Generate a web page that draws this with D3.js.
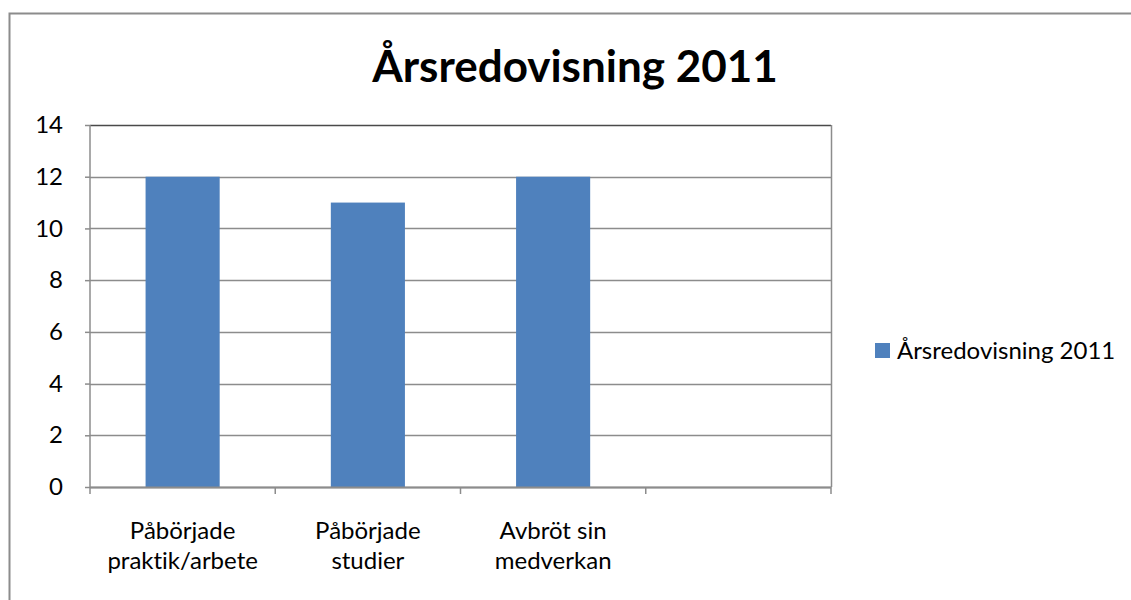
<!DOCTYPE html>
<html>
<head>
<meta charset="utf-8">
<script src="https://cdn.jsdelivr.net/npm/d3@7"></script>
<style>
  body { margin: 0; background: #fff; }
  text { font-family: Lato, "Open Sans", sans-serif; fill: #000; font-variant-ligatures: none; }
</style>
</head>
<body>
<div class="chart"></div>
<script>
// data
var categories = [["Påbörjade", "praktik/arbete"], ["Påbörjade", "studier"], ["Avbröt sin", "medverkan"], [""]];
var values = [12, 11, 12, null];
var seriesName = "Årsredovisning 2011";
var yTicks = [0, 2, 4, 6, 8, 10, 12, 14];

var svgWidth = 1131;
var svgHeight = 600;

var margin = { top: 125, left: 90, right: 300, bottom: 113 };
var width = svgWidth - margin.left - margin.right;   // 741
var height = svgHeight - margin.top - margin.bottom; // 362

var svg = d3.select(".chart")
  .append("svg")
  .attr("width", svgWidth)
  .attr("height", svgHeight);

// outer chart frame (cut off at right/bottom like the reference)
svg.append("rect")
  .attr("x", 9.5)
  .attr("y", 13.5)
  .attr("width", svgWidth + 10)
  .attr("height", svgHeight + 10)
  .attr("fill", "none")
  .attr("stroke", "#8c8c8c")
  .attr("stroke-width", 2);

// title
svg.append("text")
  .attr("x", 575)
  .attr("y", 82)
  .attr("text-anchor", "middle")
  .attr("font-weight", "bold")
  .attr("font-size", "44px")
  .text(seriesName);

var chartGroup = svg.append("g")
  .attr("transform", `translate(${margin.left}, ${margin.top})`);

var xScale = d3.scaleBand()
  .domain(d3.range(categories.length))
  .range([0, width]);

var yScale = d3.scaleLinear()
  .domain([0, 14])
  .range([height, 0]);

// gridlines
chartGroup.selectAll(".grid")
  .data(yTicks)
  .enter()
  .append("line")
  .attr("x1", 0)
  .attr("x2", width)
  .attr("y1", d => Math.round(yScale(d)) + 0.5)
  .attr("y2", d => Math.round(yScale(d)) + 0.5)
  .attr("stroke", d => d === 14 ? "#4a4a4a" : "#8c8c8c")
  .attr("stroke-width", 1.5);

// right border of plot area
chartGroup.append("line")
  .attr("x1", width + 0.5)
  .attr("x2", width + 0.5)
  .attr("y1", 0)
  .attr("y2", height)
  .attr("stroke", "#8c8c8c")
  .attr("stroke-width", 1.5);

// bars
var barW = xScale.bandwidth() * 0.4;
chartGroup.selectAll("rect.bar")
  .data(values.map((v, i) => ({ v: v, i: i })).filter(d => d.v !== null))
  .enter()
  .append("rect")
  .attr("class", "bar")
  .attr("x", d => xScale(d.i) + xScale.bandwidth() / 2 - barW / 2)
  .attr("y", d => yScale(d.v))
  .attr("width", barW)
  .attr("height", d => height - yScale(d.v))
  .attr("fill", "#4f81bd");

// y axis
var leftAxis = d3.axisLeft(yScale)
  .tickValues(yTicks)
  .tickSize(5)
  .tickPadding(22);

var yAxis = chartGroup.append("g")
  .call(leftAxis);
yAxis.select(".domain").remove();
yAxis.append("line")
  .attr("x1", 0).attr("x2", 0)
  .attr("y1", 0).attr("y2", height)
  .attr("stroke", "#8c8c8c")
  .attr("stroke-width", 1.5);
yAxis.selectAll(".tick line").attr("stroke", "#8c8c8c").attr("stroke-width", 1.5);
yAxis.selectAll("text")
  .attr("font-size", "24px")
  .attr("font-family", "Lato, sans-serif")
  .attr("fill", "#000")
  .attr("text-anchor", "end");

// x axis
var xAxisG = chartGroup.append("g")
  .attr("transform", `translate(0, ${height})`);
xAxisG.append("line")
  .attr("x1", 0).attr("x2", width)
  .attr("y1", 0.5).attr("y2", 0.5)
  .attr("stroke", "#8c8c8c")
  .attr("stroke-width", 2);
xAxisG.selectAll(".xtick")
  .data(d3.range(categories.length + 1))
  .enter()
  .append("line")
  .attr("x1", d => d === categories.length ? width : xScale(d))
  .attr("x2", d => d === categories.length ? width : xScale(d))
  .attr("y1", 0)
  .attr("y2", 7)
  .attr("stroke", "#8c8c8c")
  .attr("stroke-width", 1.5);

var catLabels = xAxisG.selectAll(".cat")
  .data(categories)
  .enter()
  .append("text")
  .attr("text-anchor", "middle")
  .attr("font-size", "24px")
  .attr("transform", (d, i) => `translate(${xScale(i) + xScale.bandwidth() / 2}, 52)`);
catLabels.selectAll("tspan")
  .data(d => d)
  .enter()
  .append("tspan")
  .attr("x", 0)
  .attr("y", (d, i) => i * 30)
  .text(d => d);

// legend
var legend = svg.append("g")
  .attr("transform", "translate(875, 343)");
legend.append("rect")
  .attr("width", 15)
  .attr("height", 15)
  .attr("fill", "#4f81bd");
legend.append("text")
  .attr("x", 22)
  .attr("y", 16)
  .attr("font-size", "24px")
  .text(seriesName);
</script>
</body>
</html>
